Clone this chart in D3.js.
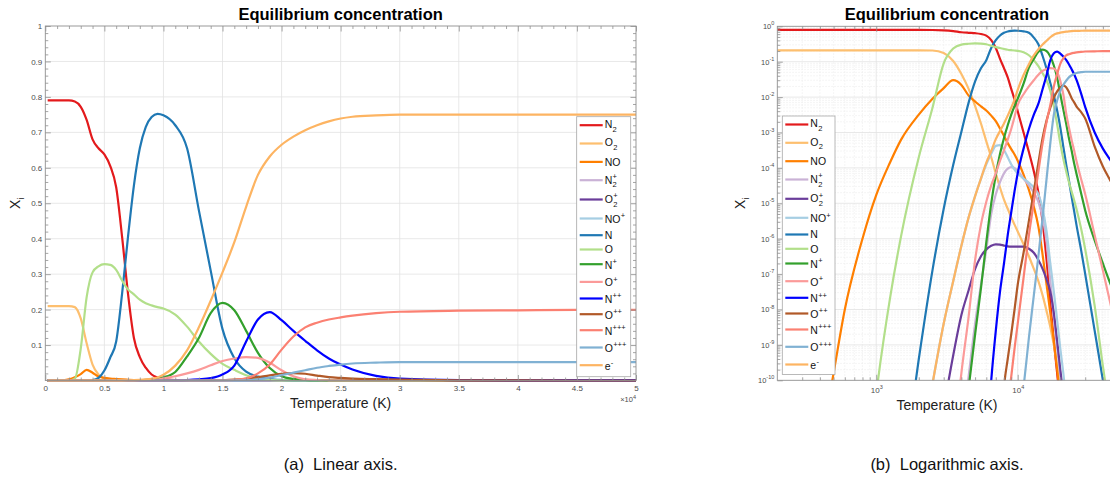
<!DOCTYPE html>
<html>
<head>
<meta charset="utf-8">
<script src="https://cdn.jsdelivr.net/npm/d3@7/dist/d3.min.js"></script>
<style>
html,body{margin:0;padding:0;background:#fff;}
svg{display:block;}
</style>
</head>
<body>
<svg id="chart" width="1110" height="487" xmlns="http://www.w3.org/2000/svg"></svg>
<script>
// ---------------- DATA ----------------
const _ = null; // species absent (far below 1e-10)
const temperature = [200,300,400,500,600,800,1000,1250,1500,2000,
  2500,3000,3500,4000,4500,5000,5500,6000,6500,7000,
  7500,8000,8500,9000,9500,10000,11000,12000,13000,14000,
  15000,16000,17000,18000,19000,20000,21000,22000,23000,24000,
  25000,26000,28000,30000,35000,40000,45000,50000];

const N2 = [.79,.79,.79,.79,.79,.79,.79,.79,.79,.79,
  .787,.772,.735,.68,.655,.638,.605,.545,.405,.245,
  .12,.066,.036,.017,.0085,.004,1e-3,2.8e-4,8e-5,2e-5,
  3e-6,2.5e-7,1.6e-8,1.3e-9,1.6e-10,2e-11,_,_,_,_,
  _,_,_,_,_,_,_,_];
const O2 = [.21,.21,.21,.21,.21,.21,.21,.21,.21,.21,
  .207,.175,.105,.045,.017,5.6e-3,1.8e-3,5.6e-4,2e-4,7e-5,
  2.8e-5,1.26e-5,7e-6,4e-6,2.5e-6,1.6e-6,7e-7,3.2e-7,1.4e-7,6.3e-8,
  2.5e-8,9e-9,3.2e-9,1e-9,2.8e-10,8e-11,2e-11,_,_,_,
  _,_,_,_,_,_,_,_];
const NO = [_,_,1e-12,1.6e-10,1e-8,1e-6,1.7e-5,1.4e-4,6.3e-4,3.2e-3,
  9e-3,.018,.03,.022,.011,7.5e-3,5.5e-3,4.2e-3,3e-3,2.1e-3,
  1.3e-3,8e-4,5e-4,3.4e-4,2.4e-4,1.6e-4,6.5e-5,2.4e-5,8e-6,2.2e-6,
  3.5e-7,5e-8,8e-9,1.3e-9,2e-10,3e-11,_,_,_,_,
  _,_,_,_,_,_,_,_];
const N2p = [_,_,_,_,_,_,_,_,_,_,
  _,_,_,3e-12,1.3e-10,4e-9,5e-8,5e-7,5e-6,1.8e-5,
  4e-5,7e-5,9.5e-5,1.05e-4,1e-4,8.3e-5,5e-5,3.2e-5,2e-5,1.1e-5,
  4e-6,8e-7,6.3e-8,6.3e-9,8e-10,1.4e-10,2.5e-11,_,_,_,
  _,_,_,_,_,_,_,_];
const O2p = [_,_,_,_,_,_,_,_,_,_,
  _,1.6e-11,5e-10,7e-9,3.5e-8,1.4e-7,3.2e-7,5e-7,6.3e-7,6.9e-7,
  6.8e-7,6.4e-7,6.1e-7,6e-7,6e-7,6e-7,6e-7,5.2e-7,4e-7,2.5e-7,
  1.4e-7,7e-8,3.2e-8,8e-9,1.3e-9,2e-10,4e-11,_,_,_,
  _,_,_,_,_,_,_,_];
const NOp = [_,_,_,_,_,_,_,_,_,_,
  8e-11,4e-9,6.3e-8,6.3e-7,4e-6,1.6e-5,5e-5,1.26e-4,2.5e-4,4.2e-4,
  4.4e-4,3.2e-4,2e-4,1.26e-4,9e-5,7e-5,5e-5,3.8e-5,2.8e-5,1.8e-5,
  7e-6,1.6e-6,2e-7,3.2e-8,5e-9,8e-10,1.6e-10,3e-11,_,_,
  _,_,_,_,_,_,_,_];
const N = [_,_,_,_,_,_,_,_,1e-13,4e-10,
  1.3e-7,7e-6,1.2e-4,1.05e-3,7e-3,.028,.065,.11,.245,.405,
  .55,.655,.715,.743,.752,.748,.72,.655,.48,.31,
  .145,.063,.025,.011,4.2e-3,1.4e-3,4e-4,1.26e-4,4.5e-5,1.6e-5,
  6.3e-6,2.5e-6,5e-7,1e-7,2.5e-9,1e-10,5e-12,_];
const O = [_,_,_,_,_,1e-14,4e-11,2e-8,1.2e-6,2e-4,
  5e-3,.09,.235,.305,.322,.328,.326,.312,.282,.257,
  .243,.228,.218,.212,.207,.203,.186,.152,.11,.075,
  .047,.03,.015,5.5e-3,1.7e-3,5e-4,1.8e-4,8e-5,4e-5,2.2e-5,
  1.26e-5,7e-6,2e-6,5e-7,1.26e-8,2.5e-10,1e-11,_];
const Np = [_,_,_,_,_,_,_,_,_,_,
  _,_,_,1e-12,6e-11,2e-9,4e-8,8e-7,1e-5,6.3e-5,
  2.5e-4,7e-4,1.6e-3,3.2e-3,5.6e-3,9e-3,.024,.068,.12,.19,
  .219,.198,.14,.078,.035,.012,4.5e-3,1.8e-3,7e-4,3.2e-4,
  1.4e-4,7e-5,2e-5,6.3e-6,9e-7,2e-7,5.6e-8,2e-8];
const Op = [_,_,_,_,_,_,_,_,_,_,
  _,_,1e-12,1.6e-10,6.3e-9,2.5e-7,2.5e-6,1.1e-5,3.2e-5,7e-5,
  1.6e-4,3.2e-4,6.3e-4,1.26e-3,2.8e-3,6e-3,.012,.02,.03,.043,
  .055,.062,.066,.064,.05,.029,.012,3.5e-3,1.4e-3,6.3e-4,
  3.2e-4,1.6e-4,5e-5,1.8e-5,1.26e-6,1.26e-7,1.6e-8,2.5e-9];
const Npp = [_,_,_,_,_,_,_,_,_,_,
  _,_,_,_,_,_,_,1e-12,1e-10,2.5e-9,
  3.2e-8,2e-7,1.26e-6,5.6e-6,2.2e-5,7e-5,3.5e-4,1.26e-3,3.2e-3,6.5e-3,
  .017,.042,.11,.172,.193,.17,.14,.112,.085,.062,
  .045,.031,.013,5.2e-3,1e-3,3.5e-4,1.7e-4,9e-5];
const Opp = [_,_,_,_,_,_,_,_,_,_,
  _,_,_,_,_,_,_,_,_,_,
  1e-12,6.3e-11,4e-10,2e-9,1e-8,5e-8,4e-7,3.2e-6,2.2e-5,1.4e-4,
  7e-4,2.2e-3,5e-3,9.5e-3,.0145,.0185,.021,.019,.014,9.5e-3,
  7.2e-3,5.5e-3,3.8e-3,2.5e-3,4e-4,1.1e-4,4.5e-5,2e-5];
const Nppp = [_,_,_,_,_,_,_,_,_,_,
  _,_,_,_,_,_,_,_,_,_,
  _,_,2e-11,1.26e-10,8e-10,4e-9,8e-8,1.26e-6,1.1e-5,8e-5,
  5e-4,2e-3,6e-3,.02,.045,.087,.124,.15,.163,.172,
  .178,.183,.19,.194,.197,.198,.199,.199];
const Oppp = [_,_,_,_,_,_,_,_,_,_,
  _,_,_,_,_,_,_,_,_,_,
  _,_,_,_,_,3e-12,6.3e-11,1.6e-9,2.5e-8,3.2e-7,
  4e-6,5e-5,5e-4,3.2e-3,8e-3,.015,.022,.029,.036,.041,
  .045,.048,.0505,.052,.052,.052,.052,.052];
const elec = [_,_,_,_,_,_,_,_,_,_,
  8e-11,4e-9,6.3e-8,6.3e-7,4e-6,1.6e-5,5e-5,1.4e-4,3e-4,6.5e-4,
  1.1e-3,1.8e-3,3e-3,5e-3,8.5e-3,.016,.042,.085,.15,.225,
  .305,.39,.49,.58,.632,.665,.688,.706,.72,.731,
  .739,.744,.748,.75,.75,.75,.75,.75];

const speciesBase = ["N","O","NO","N","O","NO","N","O","N","O","N","O","N","O","e"];
const speciesSub  = ["2","2","","2","2","","","","","","","","","",""];
const speciesSup  = ["","","","+","+","+","","","+","+","++","++","+++","+++","-"];
const speciesColors = ["#e31a1c","#fdbf6f","#ff7f00","#cab2d6","#6a3d9a","#a6cee3","#1f78b4",
  "#b2df8a","#33a02c","#fb9a99","#0000ff","#b15928","#fb8072","#80b1d3","#fdb462"];
const seriesValues = [N2,O2,NO,N2p,O2p,NOp,N,O,Np,Op,Npp,Opp,Nppp,Oppp,elec];

const linearXTicks = [0,5000,10000,15000,20000,25000,30000,35000,40000,45000,50000];
const linearXTickLabels = ["0","0.5","1","1.5","2","2.5","3","3.5","4","4.5","5"];
const linearYTicks = [0.1,0.2,0.3,0.4,0.5,0.6,0.7,0.8,0.9,1];
const logYTicks = [1e-10,1e-9,1e-8,1e-7,1e-6,1e-5,1e-4,1e-3,1e-2,1e-1,1];
const logXTicks = [1e3,1e4];

// ---------------- LAYOUT ----------------
const FONT = '"Liberation Sans", Arial, Helvetica, sans-serif';
const AXIS = '#8f8f8f', TICKTXT = '#4d4d4d', GRID = '#e2e2e2', GRIDMINOR = '#ececec';
const LW = 2.2;
const legendGaps = [18.3,18.4,18.3,19.3,19.0,16.7,14.3,14.7,17.7,16.6,15.7,16.0,17.3,17.7];

const svg = d3.select('#chart').style('font-family', FONT);
svg.append('rect').attr('width',1110).attr('height',487).attr('fill','#fff');
const defs = svg.append('defs');

function styleAxis(g, fs) {
  g.select('.domain').remove();
  g.selectAll('.tick line').attr('stroke', AXIS).attr('stroke-width', 0.8);
  g.selectAll('.tick text').attr('fill', TICKTXT).attr('font-size', fs).attr('font-family', FONT);
}

function drawLegend(bx, by, bw, bh) {
  const g = svg.append('g');
  g.append('rect').attr('x',bx).attr('y',by).attr('width',bw).attr('height',bh)
    .attr('fill','#fff').attr('stroke','#a8a8a8').attr('stroke-width',0.8);
  let cy = by + 8.5;
  speciesBase.forEach((b, i) => {
    if (i > 0) cy += legendGaps[i-1];
    const c = speciesColors[i];
    g.append('line').attr('x1',bx+3).attr('x2',bx+26).attr('y1',cy).attr('y2',cy)
      .attr('stroke',c).attr('stroke-width',LW);
    const hasSub = speciesSub[i] !== '', hasSup = speciesSup[i] !== '';
    let base = cy + 3.7;
    if (hasSub && !hasSup) base = cy + 2.8;
    if (!hasSub && hasSup) base = cy + 4.3;
    if (hasSub && hasSup) base = cy + 3.4;
    const t = g.append('text').attr('x',bx+28).attr('y',base).attr('font-size',10.5)
      .attr('fill','#111').text(b);
    const w = t.node().getComputedTextLength();
    if (hasSub) g.append('text').attr('x',bx+28+w+0.3).attr('y',base+3.6).attr('font-size',7.5)
      .attr('fill','#111').text(speciesSub[i]);
    if (hasSup) g.append('text').attr('x',bx+28+w+0.3).attr('y',base-4.6).attr('font-size',7.5)
      .attr('fill','#111').text(speciesSup[i]);
  });
}

function drawYLabel(x, y) {
  const t = svg.append('text').attr('transform',`translate(${x},${y}) rotate(-90)`)
    .attr('text-anchor','middle').attr('font-size',14).attr('fill','#222');
  t.append('tspan').text('X');
  t.append('tspan').attr('font-size',9.5).attr('dy',3.5).text('i');
}

// ================= LEFT PANEL (linear) =================
const xL = d3.scaleLinear().domain([0, 50000]).range([45.3, 636]);
const yL = d3.scaleLinear().domain([0, 1]).range([380.5, 26]);
(function(){
  const [x0,x1] = xL.range(), [yb,yt] = yL.range();
  const g = svg.append('g');
  g.selectAll(null).data(linearXTicks.slice(1,-1)).join('line')
    .attr('x1',d=>xL(d)).attr('x2',d=>xL(d)).attr('y1',yt).attr('y2',yb)
    .attr('stroke',GRID).attr('stroke-width',0.8);
  g.selectAll(null).data(linearYTicks.slice(0,-1)).join('line')
    .attr('x1',x0).attr('x2',x1).attr('y1',d=>yL(d)).attr('y2',d=>yL(d))
    .attr('stroke',GRID).attr('stroke-width',0.8);

  defs.append('clipPath').attr('id','clipL').append('rect')
    .attr('x',x0).attr('y',yt).attr('width',x1-x0).attr('height',yb-yt+1.5);
  const lines = svg.append('g').attr('clip-path','url(#clipL)');
  const idx = d3.range(temperature.length);
  seriesValues.forEach((vals, s) => {
    const line = d3.line().x(i => xL(temperature[i])).y(i => yL(vals[i] == null ? 0 : vals[i]))
      .curve(d3.curveMonotoneX);
    lines.append('path').attr('d', line(idx)).attr('fill','none')
      .attr('stroke', speciesColors[s]).attr('stroke-width', LW).attr('stroke-linejoin','round');
  });

  const minorX = d3.range(0, 50001, 1000).filter(d => d % 5000 !== 0);
  const minorY = d3.range(1, 50).map(d => d/50).filter(d => Math.round(d*50) % 5 !== 0);
  styleAxis(svg.append('g').attr('transform',`translate(0,${yb})`)
    .call(d3.axisBottom(xL).tickValues(linearXTicks).tickSize(-5.5).tickPadding(5)
      .tickFormat((d,i)=>linearXTickLabels[i])), 8);
  styleAxis(svg.append('g').attr('transform',`translate(0,${yb})`)
    .call(d3.axisBottom(xL).tickValues(minorX).tickSize(-3).tickFormat('')), 8);
  styleAxis(svg.append('g').attr('transform',`translate(0,${yt})`)
    .call(d3.axisTop(xL).tickValues(linearXTicks).tickSize(-5.5).tickFormat('')), 8);
  styleAxis(svg.append('g').attr('transform',`translate(0,${yt})`)
    .call(d3.axisTop(xL).tickValues(minorX).tickSize(-3).tickFormat('')), 8);
  styleAxis(svg.append('g').attr('transform',`translate(${x0},0)`)
    .call(d3.axisLeft(yL).tickValues(linearYTicks).tickSize(-5.5).tickPadding(3)
      .tickFormat(d3.format('~g'))), 8);
  styleAxis(svg.append('g').attr('transform',`translate(${x0},0)`)
    .call(d3.axisLeft(yL).tickValues(minorY).tickSize(-3).tickFormat('')), 8);
  styleAxis(svg.append('g').attr('transform',`translate(${x1},0)`)
    .call(d3.axisRight(yL).tickValues(linearYTicks).tickSize(-5.5).tickFormat('')), 8);
  styleAxis(svg.append('g').attr('transform',`translate(${x1},0)`)
    .call(d3.axisRight(yL).tickValues(minorY).tickSize(-3).tickFormat('')), 8);

  svg.append('rect').attr('x',x0).attr('y',yt).attr('width',x1-x0).attr('height',yb-yt)
    .attr('fill','none').attr('stroke',AXIS).attr('stroke-width',0.9);

  const ex = svg.append('text').attr('x',x1).attr('y',402).attr('text-anchor','end')
    .attr('font-size',7.5).attr('fill',TICKTXT);
  ex.append('tspan').text('\u00d710');
  ex.append('tspan').attr('dy',-3.5).attr('font-size',5.5).text('4');

  drawLegend(576.7, 116.7, 54, 260);

  svg.append('text').attr('x',(x0+x1)/2).attr('y',19.5).attr('text-anchor','middle')
    .attr('font-size',16.5).attr('font-weight','bold').attr('fill','#000').text('Equilibrium concentration');
  svg.append('text').attr('x',(x0+x1)/2).attr('y',408).attr('text-anchor','middle')
    .attr('font-size',14).attr('fill','#222').text('Temperature (K)');
  drawYLabel(20, (yt+yb)/2);
  svg.append('text').attr('x',(x0+x1)/2).attr('y',470).attr('text-anchor','middle')
    .attr('font-size',16.5).attr('fill','#111').attr('xml:space','preserve').text('(a)  Linear axis.');
})();

// ================= RIGHT PANEL (log) =================
const xR = d3.scaleLog().domain([200, 50000]).range([777.3, 777.3 + Math.log10(250)*141.5]);
const yR = d3.scaleLog().domain([1e-10, 1]).range([380.3, 26.3]);
(function(){
  const [x0,x1] = xR.range(), [yb,yt] = yR.range();
  const g = svg.append('g');
  const minorXR = [300,400,500,600,700,800,900,2000,3000,4000,5000,6000,7000,8000,9000,20000,30000,40000];
  const minorYR = [];
  for (let e = -10; e < 0; e++) for (let m = 2; m <= 9; m++) minorYR.push(m*Math.pow(10,e));
  g.selectAll(null).data(minorXR).join('line')
    .attr('x1',d=>xR(d)).attr('x2',d=>xR(d)).attr('y1',yt).attr('y2',yb)
    .attr('stroke',GRIDMINOR).attr('stroke-width',0.7).attr('stroke-dasharray','1.5,1.5');
  g.selectAll(null).data(minorYR).join('line')
    .attr('x1',x0).attr('x2',x1).attr('y1',d=>yR(d)).attr('y2',d=>yR(d))
    .attr('stroke',GRIDMINOR).attr('stroke-width',0.7).attr('stroke-dasharray','1.5,1.5');
  g.selectAll(null).data(logXTicks).join('line')
    .attr('x1',d=>xR(d)).attr('x2',d=>xR(d)).attr('y1',yt).attr('y2',yb)
    .attr('stroke',GRID).attr('stroke-width',0.8);
  g.selectAll(null).data(logYTicks.slice(1,-1)).join('line')
    .attr('x1',x0).attr('x2',x1).attr('y1',d=>yR(d)).attr('y2',d=>yR(d))
    .attr('stroke',GRID).attr('stroke-width',0.8);

  defs.append('clipPath').attr('id','clipR').append('rect')
    .attr('x',x0).attr('y',yt-1.5).attr('width',x1-x0).attr('height',yb-yt+1.5);
  const lines = svg.append('g').attr('clip-path','url(#clipR)');
  const idx = d3.range(temperature.length);
  seriesValues.forEach((vals, s) => {
    const line = d3.line().defined(i => vals[i] != null && vals[i] > 0)
      .x(i => xR(temperature[i])).y(i => yR(vals[i])).curve(d3.curveMonotoneX);
    lines.append('path').attr('d', line(idx)).attr('fill','none')
      .attr('stroke', speciesColors[s]).attr('stroke-width', LW).attr('stroke-linejoin','round');
  });

  const supFmt = function(d) {
    const t = d3.select(this); const e = Math.round(Math.log10(d));
    t.text(''); t.append('tspan').text('10');
    t.append('tspan').attr('dy',-3.8).attr('font-size',5.5).text(String(e));
  };
  const bx = svg.append('g').attr('transform',`translate(0,${yb})`)
    .call(d3.axisBottom(xR).tickValues(logXTicks).tickSize(-5.5).tickPadding(7).tickFormat(d=>d));
  styleAxis(bx, 8); bx.selectAll('.tick text').each(supFmt);
  styleAxis(svg.append('g').attr('transform',`translate(0,${yb})`)
    .call(d3.axisBottom(xR).tickValues(minorXR).tickSize(-3).tickFormat('')), 8);
  styleAxis(svg.append('g').attr('transform',`translate(0,${yt})`)
    .call(d3.axisTop(xR).tickValues(logXTicks).tickSize(-5.5).tickFormat('')), 8);
  styleAxis(svg.append('g').attr('transform',`translate(0,${yt})`)
    .call(d3.axisTop(xR).tickValues(minorXR).tickSize(-3).tickFormat('')), 8);
  const ly = svg.append('g').attr('transform',`translate(${x0},0)`)
    .call(d3.axisLeft(yR).tickValues(logYTicks).tickSize(-5.5).tickPadding(3).tickFormat(d=>d));
  styleAxis(ly, 7.5); ly.selectAll('.tick text').each(supFmt);
  styleAxis(svg.append('g').attr('transform',`translate(${x0},0)`)
    .call(d3.axisLeft(yR).tickValues(minorYR).tickSize(-3).tickFormat('')), 8);

  svg.append('rect').attr('x',x0).attr('y',yt).attr('width',x1-x0).attr('height',yb-yt)
    .attr('fill','none').attr('stroke',AXIS).attr('stroke-width',0.9);

  drawLegend(782.3, 116, 52.7, 258.5);

  svg.append('text').attr('x',(x0+x1)/2).attr('y',19.5).attr('text-anchor','middle')
    .attr('font-size',16.5).attr('font-weight','bold').attr('fill','#000').text('Equilibrium concentration');
  svg.append('text').attr('x',(x0+x1)/2).attr('y',410).attr('text-anchor','middle')
    .attr('font-size',14).attr('fill','#222').text('Temperature (K)');
  drawYLabel(745, (yt+yb)/2);
  svg.append('text').attr('x',(x0+x1)/2).attr('y',470).attr('text-anchor','middle')
    .attr('font-size',16.5).attr('fill','#111').attr('xml:space','preserve').text('(b)  Logarithmic axis.');
})();
</script>
</body>
</html>
